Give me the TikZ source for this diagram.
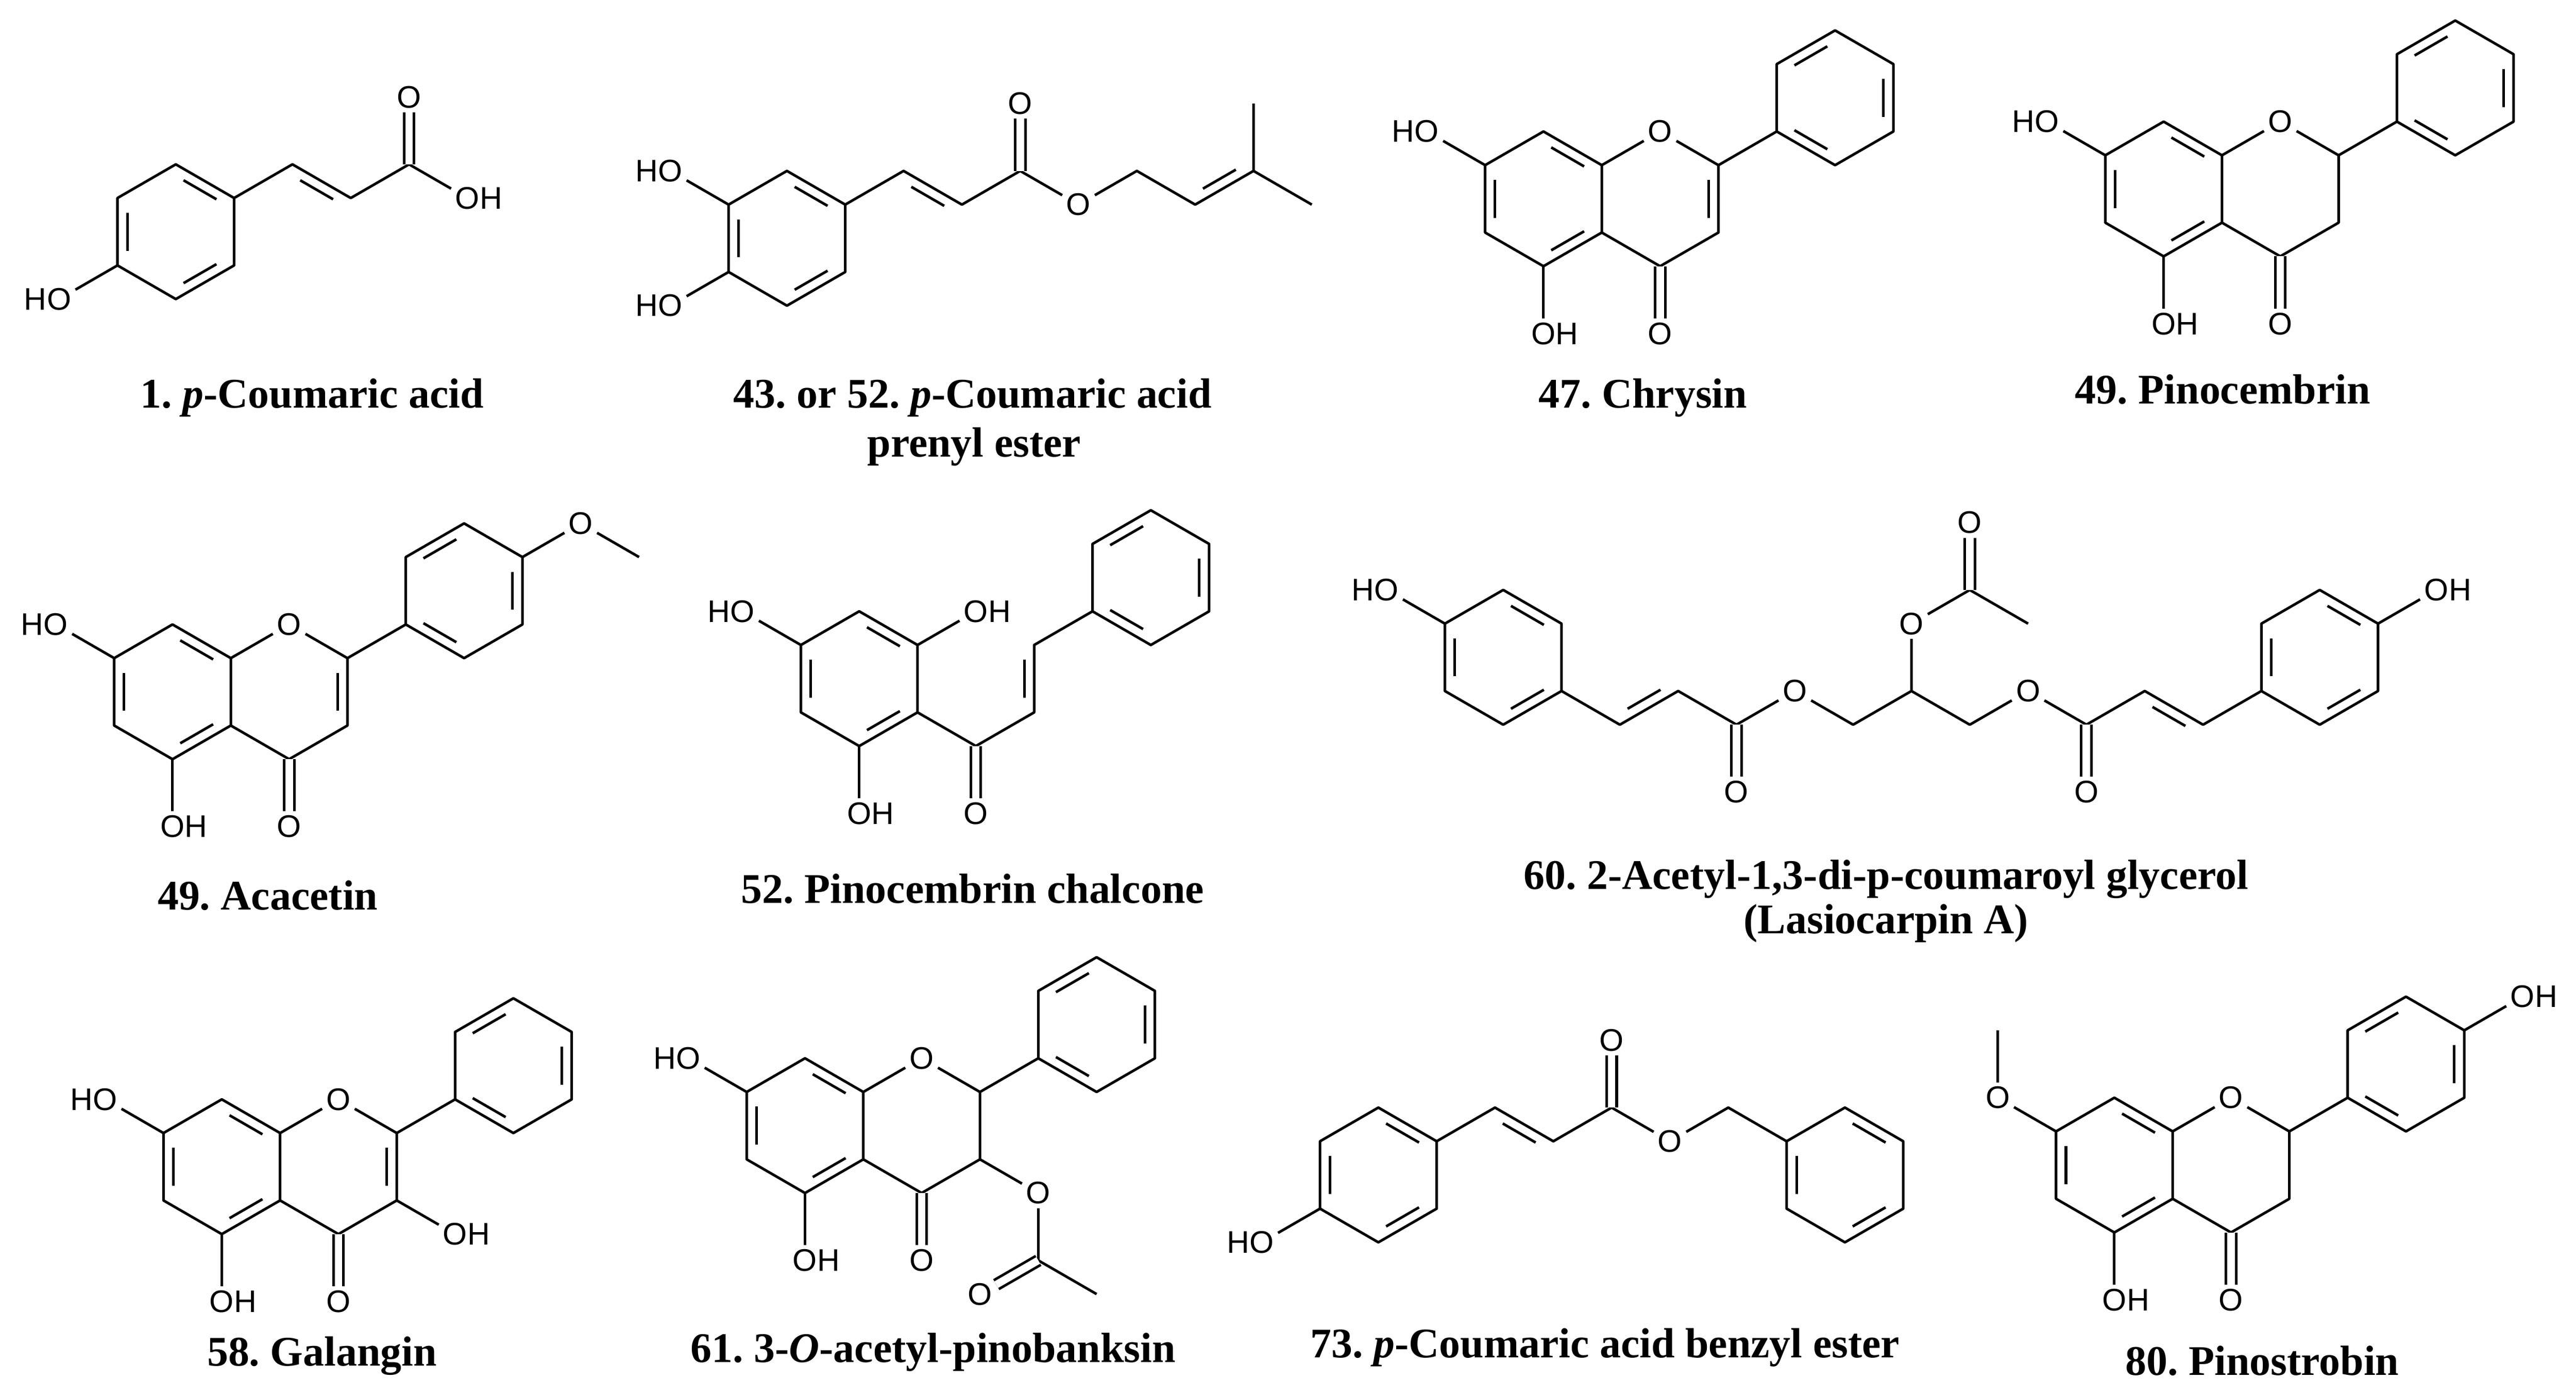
\documentclass[tikz,border=0pt]{standalone}
\usepackage{fontspec}
\newfontfamily\atomf{Liberation Sans}
\newfontfamily\capf{Liberation Serif}
\usetikzlibrary{calc}
\frenchspacing
\newcommand\rg[3]{%
 \coordinate (#1) at (#2,#3);
 \coordinate (#1-1) at ($(#2,#3)+(0,-41)$);
 \coordinate (#1-2) at ($(#2,#3)+(35.5,-20.5)$);
 \coordinate (#1-3) at ($(#2,#3)+(35.5,20.5)$);
 \coordinate (#1-4) at ($(#2,#3)+(0,41)$);
 \coordinate (#1-5) at ($(#2,#3)+(-35.5,20.5)$);
 \coordinate (#1-6) at ($(#2,#3)+(-35.5,-20.5)$);}
\newcommand\hexa[1]{\draw (#1-1)--(#1-2)--(#1-3)--(#1-4)--(#1-5)--(#1-6)--cycle;}
\newcommand\inb[3]{\draw ($(#1)!0.16!(#2)!0.17!(#3)$) -- ($(#1)!0.84!(#2)!0.17!(#3)$);}
\newcommand\aro[1]{\hexa{#1}\inb{#1-1}{#1-2}{#1}\inb{#1-3}{#1-4}{#1}\inb{#1-5}{#1-6}{#1}}
\newcommand\arob[1]{\hexa{#1}\inb{#1-6}{#1-1}{#1}\inb{#1-2}{#1-3}{#1}\inb{#1-4}{#1-5}{#1}}
% flavonoid core: prefix, Ax, Ay, Cx
\newcommand\flav[4]{%
 \rg{#1A}{#2}{#3}\rg{#1C}{#4}{#3}
 \aro{#1A}
 \node[atm] (#1O1) at (#1C-1) {O};
 \draw (#1A-2)--(#1O1)--(#1C-2);
 \draw (#1C-2)--(#1C-3)--(#1C-4)--(#1A-3);
 \node[atm] (#1O4) at ($(#1C-4)+(0,41)$) {O};
 \draw[dbl] (#1C-4)--(#1O4);
 \node[atm,oh] (#1O5) at ($(#1A-4)+(0,41)$) {O};
 \draw (#1A-4)--(#1O5);}
\tikzset{
 atm/.style={font=\atomf\fontsize{5.4}{6}\selectfont, inner sep=0.5pt},
 oh/.style={label={[atm,inner sep=0pt,label distance=-0.9pt]east:H}},
 ho/.style={label={[atm,inner sep=0pt,label distance=-0.9pt]west:H}},
 dbl/.style={double,double distance=1.3pt},
 capt/.style={font=\capf\bfseries\fontsize{7.3}{8.5}\selectfont, inner sep=0pt}
}
\begin{document}
\begin{tikzpicture}[x=0.01cm,y=-0.01cm,line width=0.45pt,line join=round]
\fill[white] (0,0) rectangle (1568,848.7);
\useasboundingbox (0,0) rectangle (1568,848.7);

% ---- 1. p-Coumaric acid
\rg{M}{107}{141}\aro{M}
\coordinate (m1a) at (178,100); \coordinate (m1b) at (213.5,120.5); \coordinate (m1c) at (249,100);
\node[atm] (m1o) at (249,59) {O};
\node[atm,oh] (m1oh) at (284.5,120.5) {O};
\node[atm,ho] (m1ho) at (36,182) {O};
\draw (M-2)--(m1a)--(m1b)--(m1c)--(m1oh); \inb{m1a}{m1b}{178,141}
\draw[dbl] (m1c)--(m1o); \draw (M-5)--(m1ho);
\node[capt] (c1) at (190,242) {1. \textit{p}-Coumaric acid};

% ---- 43/52 prenyl ester
\rg{P}{479}{145}\aro{P}
\node[atm,ho] (pho1) at (408,104) {O};
\node[atm,ho] (pho2) at (408,186) {O};
\draw (P-6)--(pho1); \draw (P-5)--(pho2);
\coordinate (p1) at (550,104); \coordinate (p2) at (585.5,124.5); \coordinate (p3) at (621,104);
\node[atm] (po1) at (621,63) {O};
\node[atm] (po2) at (656.5,124.5) {O};
\coordinate (p4) at (692,104); \coordinate (p5) at (727.5,124.5); \coordinate (p6) at (763,104);
\coordinate (p7) at (763,63); \coordinate (p8) at (798.5,124.5);
\draw (P-2)--(p1)--(p2)--(p3)--(po2)--(p4)--(p5)--(p6)--(p7); \draw (p6)--(p8);
\inb{p1}{p2}{550,145} \inb{p5}{p6}{727.5,83.5}
\draw[dbl] (p3)--(po1);
\node[capt] (c2a) at (592,242) {43. or 52. \textit{p}-Coumaric acid};
\node[capt] (c2b) at (593,272) {prenyl ester};

% ---- 47. Chrysin
\flav{ch}{939.5}{121}{1010.5}
\inb{chC-2}{chC-3}{chC}
\rg{chB}{1117}{59.5}\arob{chB}
\draw (chC-2)--(chB-5);
\node[atm,ho] (chho) at (868.5,80) {O}; \draw (chA-6)--(chho);
\node[capt] (c3) at (1000,242) {47. Chrysin};

% ---- 49. Pinocembrin
\flav{pi}{1317}{115}{1388}
\rg{piB}{1494.5}{53.5}\arob{piB}
\draw (piC-2)--(piB-5);
\node[atm,ho] (piho) at (1246,74) {O}; \draw (piA-6)--(piho);
\node[capt] (c4) at (1353,237) {49. Pinocembrin};

% ---- 49. Acacetin
\flav{ac}{105}{421}{176}
\inb{acC-2}{acC-3}{acC}
\rg{acB}{282.5}{359.5}\arob{acB}
\draw (acC-2)--(acB-5);
\node[atm] (acom) at (353.5,318.5) {O}; \coordinate (acme) at (389,339);
\draw (acB-2)--(acom)--(acme);
\node[atm,ho] (acho) at (34,380) {O}; \draw (acA-6)--(acho);
\node[capt] (c5) at (163,545) {49. Acacetin};

% ---- 52. Pinocembrin chalcone
\rg{K}{523}{413}\aro{K}
\node[atm,ho] (kho) at (452,372) {O}; \draw (K-6)--(kho);
\node[atm,oh] (koh1) at (594,372) {O}; \draw (K-2)--(koh1);
\node[atm,oh] (koh2) at (523,495) {O}; \draw (K-4)--(koh2);
\coordinate (k1) at (594,454); \coordinate (k2) at (629.5,433.5); \coordinate (k3) at (629.5,392.5);
\node[atm] (ko) at (594,495) {O};
\rg{KB}{700.5}{351.5}\arob{KB}
\draw (K-3)--(k1)--(k2)--(k3)--(KB-5); \inb{k2}{k3}{594,413}
\draw[dbl] (k1)--(ko);
\node[capt] (c6) at (592,541) {52. Pinocembrin chalcone};

% ---- 60. Lasiocarpin A
\rg{L}{915}{400}\aro{L}
\node[atm,ho] (lho) at (844,359) {O}; \draw (L-6)--(lho);
\coordinate (g1) at (986,441); \coordinate (g2) at (1021.5,420.5); \coordinate (g3) at (1057,441);
\node[atm] (go1) at (1057,482) {O};
\node[atm] (go2) at (1092.5,420.5) {O};
\coordinate (g4) at (1128,441); \coordinate (g5) at (1163.5,420.5);
\node[atm] (go3) at (1163.5,379.5) {O};
\coordinate (g6) at (1199,359);
\node[atm] (go4) at (1199,318) {O};
\coordinate (g7) at (1234.5,379.5); \coordinate (g8) at (1199,441);
\node[atm] (go5) at (1234.5,420.5) {O};
\coordinate (g9) at (1270,441);
\node[atm] (go6) at (1270,482) {O};
\coordinate (g10) at (1305.5,420.5); \coordinate (g11) at (1341,441);
\rg{R}{1412}{400}\aro{R}
\node[atm,oh] (roh) at (1483,359) {O}; \draw (R-2)--(roh);
\draw (L-3)--(g1)--(g2)--(g3)--(go2)--(g4)--(g5)--(go3)--(g6)--(g7);
\draw (g5)--(g8)--(go5)--(g9)--(g10)--(g11)--(R-5);
\inb{g1}{g2}{986,400} \inb{g10}{g11}{1305.5,461.5}
\draw[dbl] (g3)--(go1); \draw[dbl] (g6)--(go4); \draw[dbl] (g9)--(go6);
\node[capt] (c7a) at (1148,535) {60. 2-Acetyl-1,3-di-p-coumaroyl glycerol};
\node[capt] (c7b) at (1148,562) {(Lasiocarpin A)};

% ---- 58. Galangin
\flav{ga}{135}{710}{206}
\inb{gaC-2}{gaC-3}{gaC}
\rg{gaB}{312.5}{648.5}\arob{gaB}
\draw (gaC-2)--(gaB-5);
\node[atm,oh] (gaoh) at (277,751) {O}; \draw (gaC-3)--(gaoh);
\node[atm,ho] (gaho) at (64,669) {O}; \draw (gaA-6)--(gaho);
\node[capt] (c8) at (196,825) {58. Galangin};

% ---- 61. 3-O-acetyl-pinobanksin
\flav{pb}{490}{685}{561}
\rg{pbB}{667.5}{623.5}\arob{pbB}
\draw (pbC-2)--(pbB-5);
\node[atm] (pbo) at (632,726) {O};
\coordinate (q1) at (632,767); \coordinate (q2) at (667.5,787.5);
\node[atm] (pbo2) at (596.5,787.5) {O};
\draw (pbC-3)--(pbo)--(q1)--(q2); \draw[dbl] (q1)--(pbo2);
\node[atm,ho] (pbho) at (419,644) {O}; \draw (pbA-6)--(pbho);
\node[capt] (c9) at (568,823) {61. 3-\textit{O}-acetyl-pinobanksin};

% ---- 73. benzyl ester
\rg{T}{839}{715}\aro{T}
\node[atm,ho] (tho) at (768,756) {O}; \draw (T-5)--(tho);
\coordinate (s1) at (910,674); \coordinate (s2) at (945.5,694.5); \coordinate (s3) at (981,674);
\node[atm] (so1) at (981,633) {O};
\node[atm] (so2) at (1016.5,694.5) {O};
\coordinate (s4) at (1052,674);
\rg{U}{1123}{715}\aro{U}
\draw (T-2)--(s1)--(s2)--(s3)--(so2)--(s4)--(U-6);
\inb{s1}{s2}{910,715}
\draw[dbl] (s3)--(so1);
\node[capt] (c10) at (977,820) {73. \textit{p}-Coumaric acid benzyl ester};

% ---- 80. Pinostrobin
\flav{ps}{1287}{709}{1358}
\rg{psB}{1464.5}{647.5}\arob{psB}
\draw (psC-2)--(psB-5);
\node[atm,oh] (psoh) at (1535.5,606.5) {O}; \draw (psB-2)--(psoh);
\node[atm] (psom) at (1216,668) {O}; \coordinate (psme) at (1216,627);
\draw (psA-6)--(psom)--(psme);
\node[capt] (c11) at (1377,828) {80. Pinostrobin};
\end{tikzpicture}
\end{document}
